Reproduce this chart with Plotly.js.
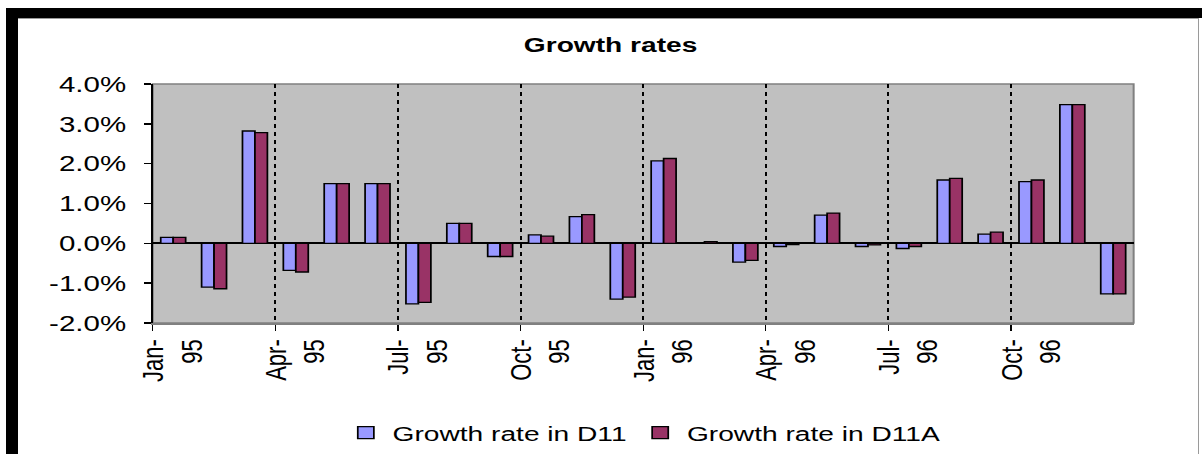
<!DOCTYPE html>
<html>
<head>
<meta charset="utf-8">
<script src="https://cdn.plot.ly/plotly-3.0.1.min.js"></script>
<style>
  html, body { margin: 0; padding: 0; background: #ffffff; overflow: hidden; }
  #wrap { position: absolute; left: 0; top: 0; width: 1202px; height: 454px; overflow: hidden; }
  #chart { position: absolute; left: 0; top: 0; transform-origin: 0 0; }
  .frame { position: absolute; pointer-events: none; z-index: 5; }
</style>
</head>
<body>
<div id="wrap">
  <div id="chart"></div>
  <div class="frame" style="left:6px; top:8px; width:1196px; height:10px; background:#000;"></div>
  <div class="frame" style="left:6px; top:8px; width:12px; height:446px; background:#000;"></div>
  <div class="frame" style="left:18px; top:18px; width:1180px; height:1px; background:#9a9a9a;"></div>
  <div class="frame" style="left:1198px; top:18px; width:1px; height:436px; background:#9a9a9a;"></div>
</div>
<script>
// ---- data ----
const months = ["Jan-95","Feb-95","Mar-95","Apr-95","May-95","Jun-95","Jul-95","Aug-95","Sep-95","Oct-95","Nov-95","Dec-95",
                "Jan-96","Feb-96","Mar-96","Apr-96","May-96","Jun-96","Jul-96","Aug-96","Sep-96","Oct-96","Nov-96","Dec-96"];
const growthD11  = [0.15, -1.10, 2.82, -0.68, 1.50, 1.50, -1.52, 0.50, -0.33, 0.21, 0.67, -1.40,
                    2.07, 0.01, -0.47, -0.08, 0.71, -0.08, -0.13, 1.59, 0.23, 1.55, 3.48, -1.27];
const growthD11A = [0.15, -1.14, 2.78, -0.72, 1.50, 1.50, -1.48, 0.50, -0.33, 0.18, 0.72, -1.35,
                    2.13, 0.04, -0.43, -0.03, 0.76, -0.04, -0.08, 1.63, 0.28, 1.59, 3.48, -1.27];
const xTickLabels = ["Jan-95","Apr-95","Jul-95","Oct-95","Jan-96","Apr-96","Jul-96","Oct-96"];
const yTickValues = [-2, -1, 0, 1, 2, 3, 4];
const yTickLabels = ["-2.0%","-1.0%","0.0%","1.0%","2.0%","3.0%","4.0%"];
const seriesNames = ["Growth rate in D11", "Growth rate in D11A"];

// ---- geometry ----
const SX = 1.34;                 // horizontal stretch of the original picture
const W = Math.round(1202 / SX);
const H = 454;
const PLOT_TOP = 84, PLOT_BOTTOM = 323;

const xIdx = months.map((m, i) => i);
const xTickVals = xTickLabels.map(l => months.indexOf(l) - 0.5);
const xTickText = xTickLabels.map(l => l.replace("-", "-<br>"));

const FONT = "Liberation Sans, Arial, sans-serif";

const traces = [
  { type: "bar", name: seriesNames[0], x: xIdx, y: growthD11,
    marker: { color: "#9999ff", line: { color: "#000000", width: 1.3 } } },
  { type: "bar", name: seriesNames[1], x: xIdx, y: growthD11A,
    marker: { color: "#993366", line: { color: "#000000", width: 1.3 } } }
];

const layout = {
  width: W, height: H,
  margin: { l: 114, r: W - 846, t: PLOT_TOP, b: H - PLOT_BOTTOM, pad: 0, autoexpand: false },
  paper_bgcolor: "rgba(0,0,0,0)",
  plot_bgcolor: "#c0c0c0",
  font: { family: FONT, color: "#000000" },
  barmode: "group", bargap: 0.39, bargroupgap: 0,
  showlegend: true,
  hovermode: false,
  title: { text: "<b>Growth rates</b>", font: { family: FONT, size: 21, color: "#000" },
           x: 0.508, xanchor: "center", y: 1 - 45 / 454, yanchor: "middle", automargin: false },
  xaxis: {
    range: [-0.5, 23.5], tickvals: xTickVals, ticktext: xTickText,
    tickangle: -90, tickfont: { family: FONT, size: 22, color: "#000" },
    ticks: "outside", ticklen: 6, tickwidth: 1, tickcolor: "#000",
    showline: true, linecolor: "#808080", linewidth: 1.5,
    showgrid: true, gridcolor: "#000000", gridwidth: 1.6, griddash: "4px,4px",
    zeroline: false, fixedrange: true, ticklabelstandoff: 0, ticklabelshift: 15,
    automargin: false
  },
  yaxis: {
    range: [-2, 4], tickvals: yTickValues, ticktext: yTickLabels,
    tickfont: { family: FONT, size: 22, color: "#000" },
    ticks: "outside", ticklen: 5, tickwidth: 1.5, tickcolor: "#000",
    showline: true, linecolor: "#000000", linewidth: 1.5,
    showgrid: false, zeroline: true, zerolinecolor: "#000000", zerolinewidth: 2,
    fixedrange: true, ticklabelstandoff: 9, automargin: false
  },
  legend: {
    orientation: "h", x: 0.5, xanchor: "center", y: (PLOT_BOTTOM - 433) / (PLOT_BOTTOM - PLOT_TOP), yanchor: "middle",
    font: { family: FONT, size: 21, color: "#000" }, bgcolor: "rgba(0,0,0,0)",
    itemwidth: 30, tracegroupgap: 0
  },
  shapes: [
    { type: "rect", xref: "paper", yref: "paper", x0: 0, x1: 1, y0: 0, y1: 1,
      line: { color: "#808080", width: 1.5 }, fillcolor: "rgba(0,0,0,0)", layer: "below" }
  ]
};

const el = document.getElementById("chart");
el.style.transform = "scaleX(" + SX + ")";
Plotly.newPlot(el, traces, layout, { staticPlot: true, displayModeBar: false });
</script>
</body>
</html>
